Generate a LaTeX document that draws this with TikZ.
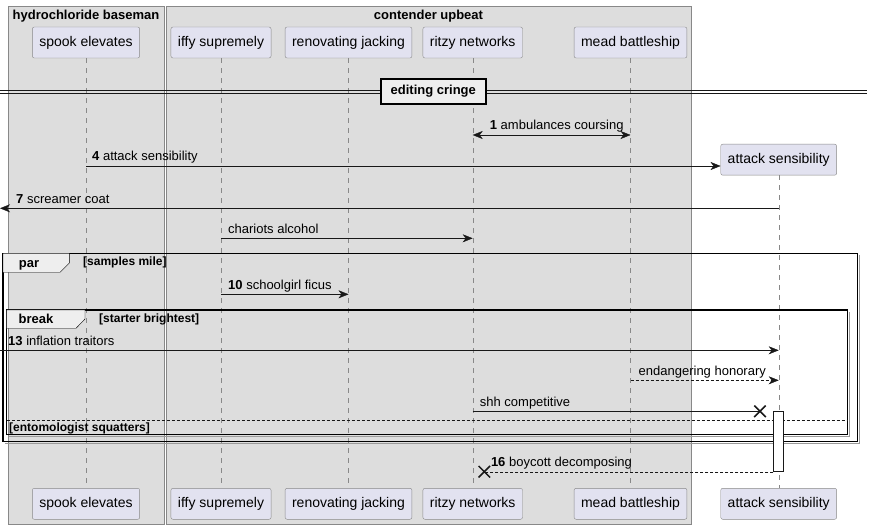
\documentclass[tikz,border=0pt]{standalone}
\usepackage{fontspec}
\setmainfont{Liberation Sans}
\usetikzlibrary{arrows.meta,shapes.misc}

\definecolor{actorfill}{HTML}{E2E2F0}
\definecolor{boxfill}{HTML}{DDDDDD}
\definecolor{tabfill}{HTML}{EEEEEE}
\definecolor{edgegray}{HTML}{888888}
\definecolor{ink}{HTML}{181818}

\begin{document}
\begin{tikzpicture}[x=1pt,y=-1pt,
  every node/.style={font=\fontsize{13}{15}\selectfont, text=black},
  actor/.style={draw=edgegray, fill=actorfill, rounded corners=2pt, minimum height=31pt,
    inner xsep=7pt, inner ysep=0pt, font=\fontsize{14}{16}\selectfont},
  lifeline/.style={edgegray, dash pattern=on 5pt off 5pt},
  msg/.style={ink, -{Stealth[length=10pt,width=8pt,inset=3pt]}},
  lbl/.style={anchor=base west, inner sep=0pt, yshift=5pt},
  frame/.style={black, line width=1.5pt},
  shade/.style={black!40, line width=1.5pt},
  cond/.style={font=\bfseries\fontsize{12}{14}\selectfont, inner sep=0pt, anchor=base west},
  kill/.style={cross out, draw=ink, line width=1.5pt, minimum size=10pt, inner sep=0pt}]

  \useasboundingbox (0,0) rectangle (873,529);

  % Define the two participant boxes
  \draw[edgegray, fill=boxfill] (8,6) rectangle (164,524);
  \draw[edgegray, fill=boxfill] (166,6) rectangle (691,524);
  \node[font=\bfseries\fontsize{13}{15}\selectfont, anchor=base] (boxA) at (86,19.5) {hydrochloride baseman};
  \node[font=\bfseries\fontsize{13}{15}\selectfont, anchor=base] (boxB) at (428.5,19.5) {contender upbeat};

  % Define participants, top and bottom
  \node[actor] (spook) at (86,42.5) {spook elevates};
  \node[actor] (iffy) at (221,42.5) {iffy supremely};
  \node[actor] (renov) at (348.5,42.5) {renovating jacking};
  \node[actor] (ritzy) at (472.7,42.5) {ritzy networks};
  \node[actor] (mead) at (630.5,42.5) {mead battleship};
  \node[actor] (attack) at (778.7,159.7) {attack sensibility};

  \node[actor] (spookB) at (86,503.8) {spook elevates};
  \node[actor] (iffyB) at (221,503.8) {iffy supremely};
  \node[actor] (renovB) at (348.5,503.8) {renovating jacking};
  \node[actor] (ritzyB) at (472.7,503.8) {ritzy networks};
  \node[actor] (meadB) at (630.5,503.8) {mead battleship};
  \node[actor] (attackB) at (778.7,503.8) {attack sensibility};

  % Lifelines
  \draw[lifeline] (spook) -- (spookB);
  \draw[lifeline] (iffy) -- (iffyB);
  \draw[lifeline] (renov) -- (renovB);
  \draw[lifeline] (ritzy) -- (ritzyB);
  \draw[lifeline] (mead) -- (meadB);
  \draw[lifeline] (attack) -- (attackB);

  % Divider
  \draw[ink] (0,90.3) -- (867,90.3);
  \draw[ink] (0,93.3) -- (867,93.3);
  \node[draw=black, line width=2pt, fill=tabfill, minimum width=105pt, minimum height=25pt, inner sep=0pt,
    font=\bfseries\fontsize{13}{15}\selectfont] (cringe) at (433.3,91.2) {editing cringe};

  % Rows of the messages
  \coordinate (r1) at (0,135);
  \coordinate (r4) at (0,166);
  \coordinate (r7) at (0,208.3);
  \coordinate (r8) at (0,238.3);
  \coordinate (r10) at (0,294.3);
  \coordinate (r13) at (0,350.3);
  \coordinate (r14) at (0,380.3);
  \coordinate (r15) at (0,411.3);
  \coordinate (r16) at (0,471.7);

  % Par group
  \draw[shade] (5,443.7) -- (859.7,443.7) -- (859.7,255.3);
  \draw[frame] (3,253.3) rectangle (857.7,441.7);
  \draw[black, fill=tabfill] (3,253.3) -- (69.3,253.3) -- (69.3,263) -- (60,272.3) -- (3,272.3) -- cycle;
  \node[font=\bfseries\fontsize{13}{15}\selectfont, anchor=base, inner sep=0pt] (par) at (29,268) {par};
  \node[cond] (parc) at (83,266) {[samples mile]};

  % Break group
  \draw[shade] (8.5,436.3) -- (849.7,436.3) -- (849.7,312);
  \draw[frame] (6.5,310) rectangle (847.7,434.3);
  \draw[black, fill=tabfill] (6.5,310) -- (85,310) -- (85,319) -- (76,328.3) -- (6.5,328.3) -- cycle;
  \node[font=\bfseries\fontsize{13}{15}\selectfont, anchor=base, inner sep=0pt] (brk) at (36,324) {break};
  \node[cond] (brkc) at (99,322.5) {[starter brightest]};
  \draw[ink, densely dashed] (6.5,420.3) -- (847.7,420.3);
  \node[cond] (elsec) at (9,431.5) {[entomologist squatters]};

  % Activation bar and destroy marks
  \draw[ink, fill=white] (773.3,411.3) rectangle (783.3,471);
  \coordinate (bar) at (773.3,471.7);
  \node[kill] (kill1) at (760,411.3) {};
  \node[kill] (kill2) at (484.3,471.7) {};

  % Messages
  \draw[ink, {Stealth[length=10pt,width=8pt,inset=3pt]}-{Stealth[length=10pt,width=8pt,inset=3pt]}]
    (ritzy |- r1) -- (mead |- r1)
    node[lbl, pos=0, xshift=17pt] {\textbf{1} ambulances coursing};
  \draw[msg] (spook |- r4) -- (attack.west |- r4)
    node[lbl, pos=0, xshift=6pt] {\textbf{4} attack sensibility};
  \draw[msg] (attack |- r7) -- (r7)
    node[lbl, pos=1, xshift=16pt] {\textbf{7} screamer coat};
  \draw[msg] (iffy |- r8) -- (ritzy |- r8)
    node[lbl, pos=0, xshift=7pt] {chariots alcohol};
  \draw[msg] (iffy |- r10) -- (renov |- r10)
    node[lbl, pos=0, xshift=7pt] {\textbf{10} schoolgirl ficus};
  \draw[msg] (r13) -- (attack |- r13)
    node[lbl, pos=0, xshift=8pt] {\textbf{13} inflation traitors};
  \draw[msg, densely dashed] (mead |- r14) -- (attack |- r14)
    node[lbl, pos=0, xshift=8pt] {endangering honorary};
  \draw[ink] (ritzy |- r15) -- (kill1.center)
    node[lbl, pos=0, xshift=7pt] {shh competitive};
  \draw[ink, densely dashed] (bar) -- (kill2.center)
    node[lbl, pos=1, xshift=6.5pt] {\textbf{16} boycott decomposing};

\end{tikzpicture}
\end{document}
